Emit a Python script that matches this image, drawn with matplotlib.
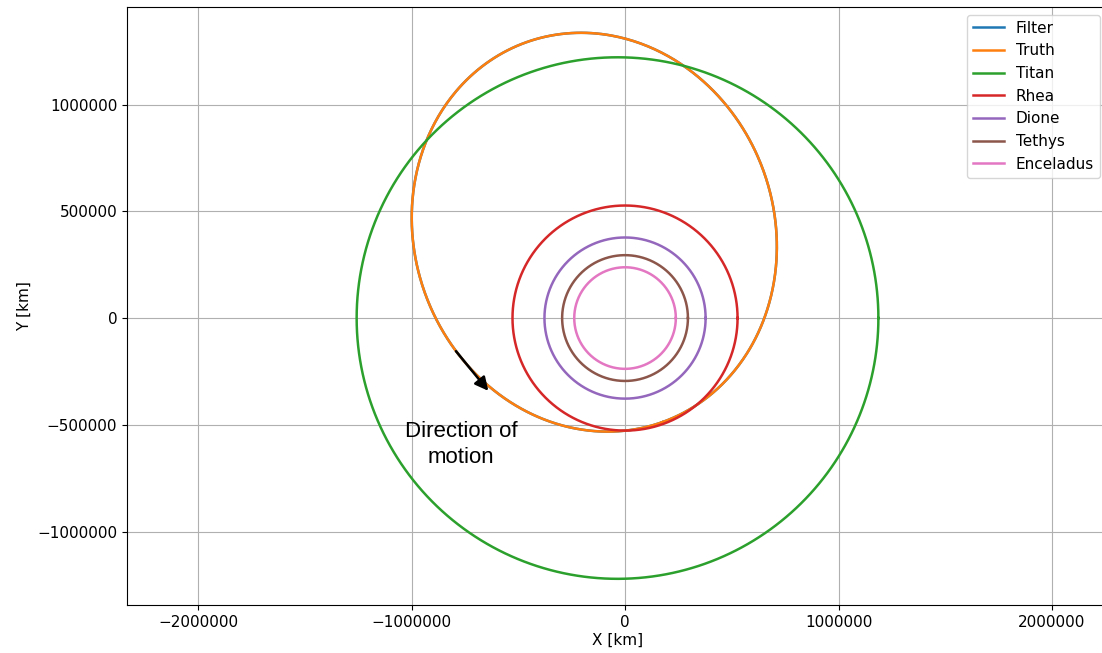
import numpy as np
import matplotlib
matplotlib.use("Agg")
import matplotlib.pyplot as plt

# orbit parameters (km)
moon_names = ["Titan", "Rhea", "Dione", "Tethys", "Enceladus"]
moon_a = [1221900, 527100, 377400, 294600, 237900]
moon_e = [0.0288, 0.0, 0.0, 0.0, 0.0]
moon_colors = ["tab:green", "tab:red", "tab:purple", "tab:brown", "tab:pink"]

# spacecraft truth orbit: semi-major axis, eccentricity, periapsis angle (deg)
truth_a = 945000
truth_e = 0.452
truth_w = -70.3


def conic(a, e, w_deg, n=721):
    nu = np.linspace(0, 2 * np.pi, n)
    r = a * (1 - e**2) / (1 + e * np.cos(nu))
    ang = nu + np.deg2rad(w_deg)
    return r * np.cos(ang), r * np.sin(ang)


fig = plt.figure(figsize=(11.02, 6.53), dpi=100)
ax = fig.add_axes([0.1152, 0.0735, 0.8902, 0.9158])

tx, ty = conic(truth_a, truth_e, truth_w)
ax.plot(tx, ty, color="tab:blue", lw=1.8, label="Filter")
ax.plot(tx, ty, color="tab:orange", lw=1.8, label="Truth")
for name, a, e, c in zip(moon_names, moon_a, moon_e, moon_colors):
    mx, my = conic(a, e, 0)
    ax.plot(mx, my, color=c, lw=1.8, label=name, solid_joinstyle="round")

ax.annotate("", xy=(-632000, -351000), xytext=(-800000, -145000),
            arrowprops=dict(arrowstyle="-|>,head_length=0.8,head_width=0.4",
                            color="black", lw=1.8))
ax.text(-768000, -592000, "Direction of\nmotion", ha="center", va="center",
        fontsize=16, family="Liberation Sans", linespacing=1.3)

ax.set_xlim(-2333000, 2262000)
ax.set_ylim(-1344000, 1457000)
ax.set_xticks([-2000000, -1000000, 0, 1000000, 2000000])
ax.set_yticks([-1000000, -500000, 0, 500000, 1000000])
ax.ticklabel_format(style="plain")
ax.tick_params(labelsize=11)
ax.grid(True, color="#b0b0b0", lw=0.8)
ax.set_axisbelow(True)
ax.set_xlabel("X [km]", fontsize=11, labelpad=2)
ax.set_ylabel("Y [km]", fontsize=11)
ax.legend(loc="upper right", fontsize=11)

fig.savefig("out.png", dpi=100)
